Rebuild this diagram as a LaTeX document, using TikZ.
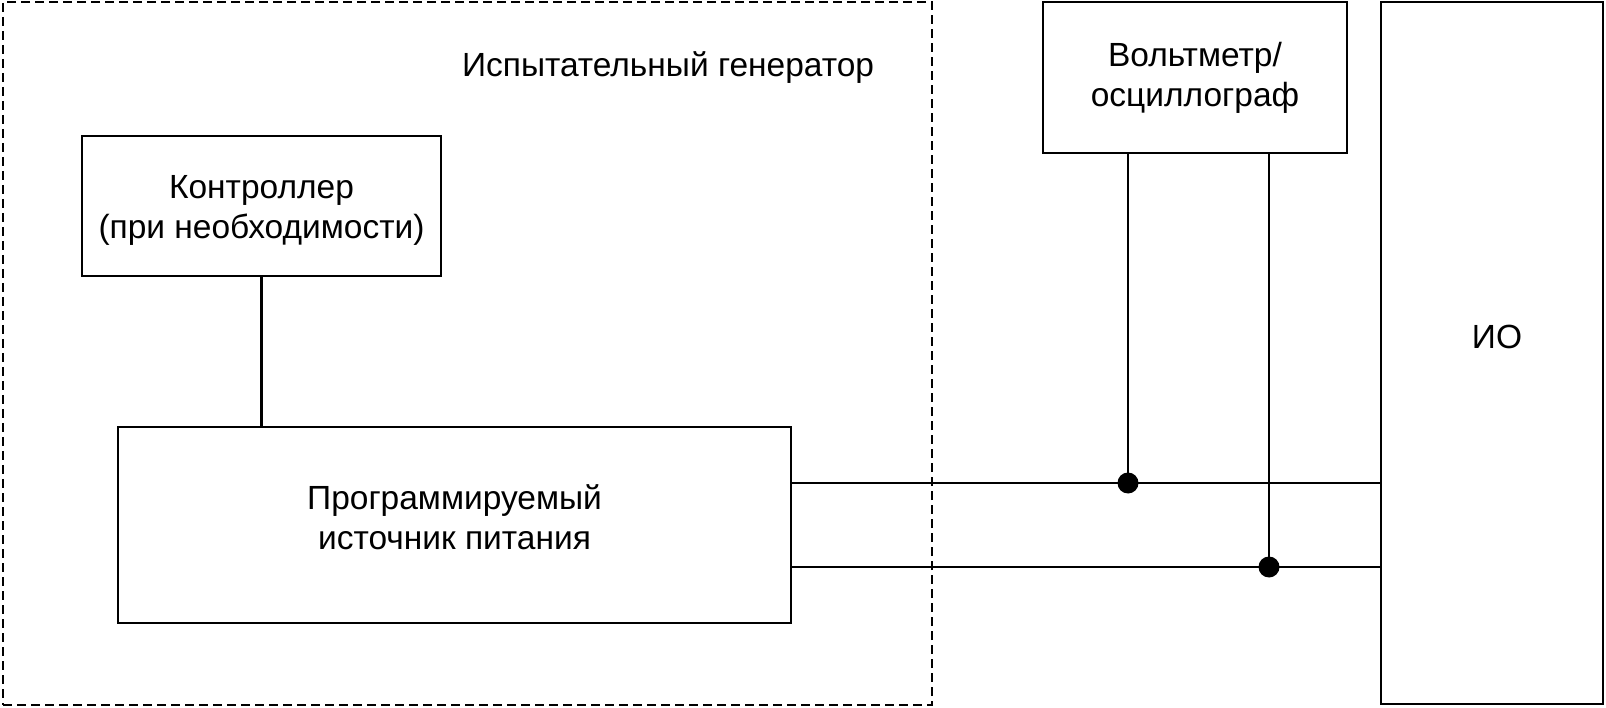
\documentclass[tikz,border=0pt]{standalone}
\usepackage{fontspec}
\setmainfont{Liberation Sans}
\begin{document}
\begin{tikzpicture}[x=1pt,y=-1pt,
  blk/.style={draw,line width=2.4pt,rectangle,inner sep=0pt,align=center,font=\fontsize{33.5}{40}\selectfont},
  lbl/.style={inner sep=0pt,align=center,font=\fontsize{33.5}{40}\selectfont},
  wire/.style={line width=2.2pt},
  thin/.style={line width=1.4pt},
  dot/.style={circle,fill=black,inner sep=0pt,minimum size=21pt}]
\useasboundingbox (0,0) rectangle (1606,708);
\node[draw,dashed,line width=1.4pt,dash pattern=on 9pt off 5pt,minimum width=929pt,minimum height=703pt,inner sep=0pt] (gen) at (467.5,353.5) {};
\node[lbl] (genlbl) at (668,68) {Испытательный генератор};
\node[blk,minimum width=304pt,minimum height=151pt] (volt) at (1195,77.5) {Вольтметр/\\осциллограф};
\node[blk,minimum width=222pt,minimum height=702pt] (io) at (1492,353) {};
\node[lbl] (iolbl) at (1497,337) {ИО};
\node[blk,minimum width=359pt,minimum height=140pt] (ctrl) at (261.5,206) {};
\node[lbl] (ctrllbl) at (261.5,210) {Контроллер\\(при необходимости)};
\node[blk,minimum width=673pt,minimum height=196pt] (psu) at (454.5,525) {};
\node[lbl] (psulbl) at (454.5,517) {Программируемый\\источник питания};
\coordinate (j1) at (1128,483);
\coordinate (j2) at (1269,567);
\draw[wire] (ctrl.south) -- (ctrl.south |- psu.north);
\draw[wire] (psu.east |- j1) -- (io.west |- j1);
\draw[wire] (psu.east |- j2) -- (io.west |- j2);
\draw[thin] (volt.south -| j1) -- (j1);
\draw[thin] (volt.south -| j2) -- (j2);
\node[dot] (d1) at (j1) {};
\node[dot] (d2) at (j2) {};
\end{tikzpicture}
\end{document}
